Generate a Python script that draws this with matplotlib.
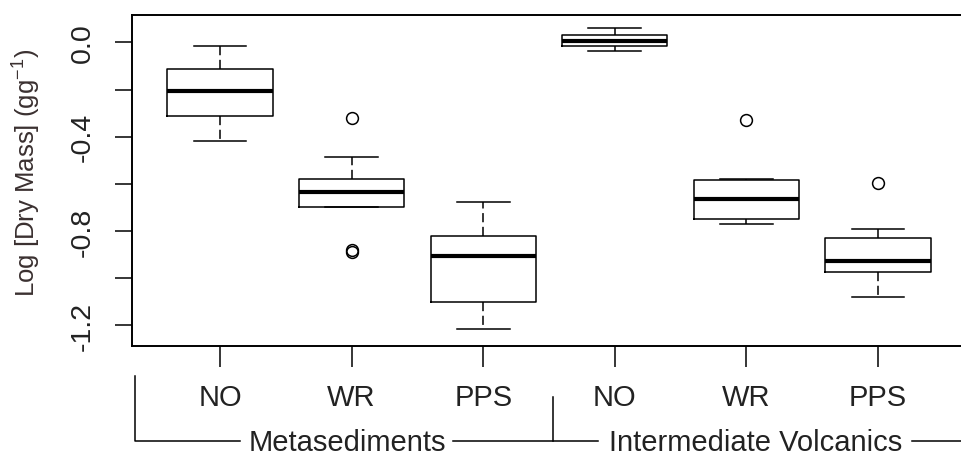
import matplotlib.pyplot as plt
from matplotlib.lines import Line2D
from matplotlib.transforms import blended_transform_factory

plt.rcParams['font.family'] = ['Liberation Sans', 'DejaVu Sans']
plt.rcParams['mathtext.fontset'] = 'custom'
plt.rcParams['mathtext.rm'] = 'Liberation Sans'
plt.rcParams['mathtext.default'] = 'regular'

# values (log dry mass)
treatments = ["NO", "WR", "PPS", "NO", "WR", "PPS"]
groups = ["Metasediments", "Intermediate Volcanics"]
whislo = [-0.419, -0.699, -1.215, -0.038, -0.769, -1.080]
q1 = [-0.314, -0.699, -1.102, -0.017, -0.747, -0.975]
med = [-0.206, -0.633, -0.904, 0.007, -0.663, -0.928]
q3 = [-0.114, -0.579, -0.822, 0.031, -0.585, -0.829]
whishi = [-0.017, -0.487, -0.675, 0.059, -0.579, -0.792]
fliers = [[], [-0.321, -0.881, -0.890], [], [], [-0.328], [-0.595]]
yticks = [0.0, -0.2, -0.4, -0.6, -0.8, -1.0, -1.2]
ytick_labels = ["0.0", "", "-0.4", "", "-0.8", "", "-1.2"]

stats = []
for i in range(len(treatments)):
    stats.append(dict(whislo=whislo[i], q1=q1[i], med=med[i], q3=q3[i],
                      whishi=whishi[i], fliers=fliers[i]))

W, H = 962, 456
fig = plt.figure(figsize=(W / 100, H / 100), dpi=100)
ax = fig.add_axes([131.7 / W, 1 - 346.5 / H, 843.7 / W, 330.5 / H])

pos = list(range(1, len(treatments) + 1))
ax.bxp(stats, positions=pos, widths=0.8, patch_artist=False,
       boxprops=dict(color='black', linewidth=1.1),
       medianprops=dict(color='black', linewidth=3.0, solid_capstyle='butt'),
       whiskerprops=dict(color='black', linewidth=1.1, linestyle=(0, (6, 3))),
       capprops=dict(color='black', linewidth=1.1),
       capwidths=0.4,
       flierprops=dict(marker='o', markersize=8.5, markerfacecolor='none',
                       markeredgecolor='black', markeredgewidth=1.1))

ax.set_xlim(0.329, 6.74)
ax.set_ylim(-1.285, 0.116)

for s in ax.spines.values():
    s.set_linewidth(1.4)
ax.spines['right'].set_visible(False)

ax.set_yticks(yticks)
ax.set_yticklabels(ytick_labels)
ax.tick_params(axis='y', length=12, width=1.1, pad=14, labelsize=20.5,
               labelrotation=90, labelcolor='#222222')
for lab in ax.get_yticklabels():
    lab.set_va('center')

ax.set_xticks(pos)
ax.set_xticklabels(treatments)
ax.tick_params(axis='x', length=15, width=1.1, pad=12, labelsize=21,
               labelcolor='#222222')

fig.text(27 / W, 1 - 172.5 / H, "Log [Dry Mass] (gg$^{-1}$)", rotation=90,
         ha='center', va='center', fontsize=18.5, color='#3a3030')

# group brackets under the axis (line pieces leave room for the labels)
tr = blended_transform_factory(ax.transData, fig.transFigure)
y_line = 1 - 441.5 / H
lw = 1.1
fig.add_artist(Line2D([0.354, 0.354, 1.152], [1 - 376.7 / H, y_line, y_line],
                      color='black', linewidth=lw, transform=tr, clip_on=False))
fig.add_artist(Line2D([2.771, 3.872], [y_line, y_line],
                      color='black', linewidth=lw, transform=tr, clip_on=False))
fig.add_artist(Line2D([3.534, 3.534], [1 - 398 / H, y_line],
                      color='black', linewidth=lw, transform=tr, clip_on=False))
fig.add_artist(Line2D([6.258, 7.5], [y_line, y_line],
                      color='black', linewidth=lw, transform=tr, clip_on=False))
for gx, name in zip([1.97, 5.07], groups):
    fig.text(gx, 1 - 451 / H, name, transform=tr, ha='center', va='baseline',
             fontsize=21, color='#222222')

fig.savefig("out.png", dpi=100)
